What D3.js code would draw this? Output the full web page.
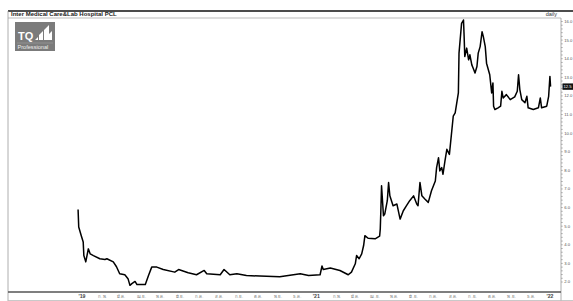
<!DOCTYPE html>
<html>
<head>
<meta charset="utf-8">
<script src="https://cdn.jsdelivr.net/npm/d3@7"></script>
<style>
    body { margin: 0; background: #fff; }
    svg { display: block; font-family: "Liberation Sans", Arial, sans-serif; }
</style>
</head>
<body>
<svg></svg>
<script>
// price data (close-ish values)
const dates = [
    '2019-12-29', '2019-12-30', '2020-01-03', '2020-01-06', '2020-01-07', '2020-01-10', '2020-01-14', '2020-01-17',
    '2020-01-22', '2020-02-01', '2020-02-09', '2020-02-12', '2020-02-22', '2020-02-27', '2020-03-03', '2020-03-11',
    '2020-03-16', '2020-03-19', '2020-03-22', '2020-03-27', '2020-03-30', '2020-04-12', '2020-04-17', '2020-04-22',
    '2020-04-30', '2020-05-10', '2020-05-28', '2020-06-03', '2020-06-18', '2020-07-01', '2020-07-13', '2020-07-17',
    '2020-08-07', '2020-08-13', '2020-08-22', '2020-09-02', '2020-09-17', '2020-10-08', '2020-11-08', '2020-12-10',
    '2020-12-23', '2021-01-10', '2021-01-13', '2021-01-15', '2021-01-26', '2021-02-10', '2021-02-23', '2021-02-28',
    '2021-03-06', '2021-03-08', '2021-03-12', '2021-03-16', '2021-03-19', '2021-03-21', '2021-03-26', '2021-04-06',
    '2021-04-13', '2021-04-14', '2021-04-15', '2021-04-16', '2021-04-19', '2021-04-21', '2021-04-25', '2021-04-27',
    '2021-04-29', '2021-05-04', '2021-05-10', '2021-05-15', '2021-05-20', '2021-05-25', '2021-05-30', '2021-06-05',
    '2021-06-10', '2021-06-12', '2021-06-15', '2021-06-18', '2021-06-23', '2021-06-28', '2021-07-03', '2021-07-09',
    '2021-07-11', '2021-07-14', '2021-07-16', '2021-07-19', '2021-07-21', '2021-07-24', '2021-07-27', '2021-07-31',
    '2021-08-06', '2021-08-09', '2021-08-14', '2021-08-15', '2021-08-19', '2021-08-22', '2021-08-23', '2021-08-24',
    '2021-08-27', '2021-08-30', '2021-09-01', '2021-09-04', '2021-09-06', '2021-09-09', '2021-09-12', '2021-09-14',
    '2021-09-17', '2021-09-20', '2021-09-22', '2021-09-25', '2021-09-27', '2021-10-02', '2021-10-05', '2021-10-07',
    '2021-10-08', '2021-10-10', '2021-10-15', '2021-10-19', '2021-10-21', '2021-10-23', '2021-10-28', '2021-11-03',
    '2021-11-10', '2021-11-14', '2021-11-16', '2021-11-18', '2021-11-21', '2021-11-26', '2021-11-29', '2021-12-01',
    '2021-12-09', '2021-12-17', '2021-12-20', '2021-12-22', '2021-12-30', '2022-01-02', '2022-01-04', '2022-01-05'
];
const prices = [
    5.90, 4.96, 4.49, 4.15, 3.42, 3.08, 3.78, 3.51,
    3.42, 3.25, 3.21, 3.25, 3.08, 2.82, 2.44, 2.39,
    2.18, 1.82, 1.91, 2.03, 1.86, 1.86, 2.35, 2.80,
    2.80, 2.67, 2.53, 2.67, 2.50, 2.39, 2.62, 2.44,
    2.39, 2.67, 2.39, 2.44, 2.35, 2.32, 2.28, 2.44,
    2.35, 2.39, 2.86, 2.67, 2.75, 2.62, 2.39, 2.53,
    2.98, 3.42, 3.25, 3.51, 3.96, 4.49, 4.35, 4.32,
    4.46, 4.85, 5.92, 7.17, 5.56, 5.65, 6.37, 7.35,
    6.63, 6.10, 6.19, 5.38, 5.83, 6.10, 6.37, 6.63,
    6.19, 6.10, 7.35, 6.63, 6.45, 6.28, 6.90, 7.43,
    8.15, 8.68, 7.97, 8.15, 7.79, 8.50, 9.13, 8.86,
    10.91, 11.09, 12.16, 14.30, 15.90, 16.08, 15.19, 14.12,
    14.57, 13.94, 14.21, 13.67, 13.50, 13.23, 13.58, 14.30,
    14.65, 15.45, 15.19, 14.65, 13.76, 13.14, 12.16, 12.70,
    11.45, 11.27, 11.36, 11.45, 12.25, 11.89, 12.07, 11.80,
    11.95, 12.25, 13.14, 12.34, 11.80, 11.63, 11.98, 11.36,
    11.27, 11.36, 11.89, 11.36, 11.45, 11.98, 13.05, 12.50
];

const yTicks = [2, 3, 4, 5, 6, 7, 8, 9, 10, 11, 12, 13, 14, 15, 16];
const tickDates = [
    '2020-01-01', '2020-02-01', '2020-03-01', '2020-04-01', '2020-05-01', '2020-06-01', '2020-07-01',
    '2020-08-01', '2020-09-01', '2020-10-01', '2020-11-01', '2020-12-01', '2021-01-01', '2021-02-01',
    '2021-03-01', '2021-04-01', '2021-05-01', '2021-06-01', '2021-07-01', '2021-08-01', '2021-09-01',
    '2021-10-01', '2021-11-01', '2021-12-01', '2022-01-01'
];
const tickLabels = [
    "'19", 'ก.พ.', 'มี.ค.', 'เม.ย.', 'พ.ค.', 'มิ.ย.', 'ก.ค.', 'ส.ค.', 'ก.ย.', 'ต.ค.', 'พ.ย.', 'ธ.ค.',
    "'21", 'ก.พ.', 'มี.ค.', 'เม.ย.', 'พ.ค.', 'มิ.ย.', 'ก.ค.', 'ส.ค.', 'ก.ย.', 'ต.ค.', 'พ.ย.', 'ธ.ค.', "'22"
];

const title = 'Inter Medical Care&Lab Hospital PCL';

(() => {
    const W = 573, H = 301;
    const left = 8, right = 561, top = 11, bar = 18, bottom = 292;

    const svg = d3.select('svg').attr('width', W).attr('height', H);
    const parse = d3.utcParse('%Y-%m-%d');
    const data = dates.map((d, i) => ({ date: parse(d), v: prices[i] }));

    const x = d3.scaleUtc()
        .domain([parse(tickDates[0]), parse(tickDates[tickDates.length - 1])])
        .range([80, 548]);
    const y = d3.scaleLinear().domain([2, 16]).range([282, 21.5]);

    // frame
    svg.append('line').attr('x1', left).attr('x2', W).attr('y1', top).attr('y2', top)
        .attr('stroke', '#111').attr('stroke-width', 1.5);
    svg.append('line').attr('x1', left).attr('x2', right).attr('y1', bar).attr('y2', bar)
        .attr('stroke', '#aaa').attr('stroke-width', 0.8);
    svg.append('line').attr('x1', left).attr('x2', left).attr('y1', top).attr('y2', H)
        .attr('stroke', '#999').attr('stroke-width', 0.8);
    svg.append('line').attr('x1', right).attr('x2', right).attr('y1', bar).attr('y2', H)
        .attr('stroke', '#999').attr('stroke-width', 0.8);
    svg.append('line').attr('x1', left).attr('x2', right).attr('y1', bottom).attr('y2', bottom)
        .attr('stroke', '#555').attr('stroke-width', 1.6);
    svg.append('line').attr('x1', left).attr('x2', W).attr('y1', 300.5).attr('y2', 300.5)
        .attr('stroke', '#bbb').attr('stroke-width', 0.8);

    svg.append('text').attr('x', 11).attr('y', 16.3)
        .attr('font-size', 6).attr('font-weight', 'bold').attr('fill', '#222')
        .text(title);
    svg.append('text').attr('x', 557).attr('y', 16.3).attr('text-anchor', 'end')
        .attr('font-size', 5.5).attr('fill', '#333').text('daily');

    // logo
    const logo = svg.append('g').attr('transform', 'translate(15, 22)');
    logo.append('rect').attr('width', 40).attr('height', 29).attr('fill', '#7b7b7b');
    logo.append('text').attr('x', 3).attr('y', 18).attr('font-size', 11).attr('font-weight', 'bold')
        .attr('fill', '#fff').text('TQ');
    logo.append('path').attr('fill', '#fff')
        .attr('d', 'M20,18 l3,-3 l0,3 z M24,18 l0,-5 l4,-4 l0,9 z M29,18 l0,-10 l5,-5 l0,15 z M32,14 l5,-5 l0,9 l-5,0 z');
    logo.append('line').attr('x1', 2).attr('x2', 38).attr('y1', 21).attr('y2', 21)
        .attr('stroke', '#aaa').attr('stroke-width', 0.5);
    logo.append('text').attr('x', 2.5).attr('y', 27).attr('font-size', 5.6)
        .attr('fill', '#eee').text('Professional');

    // right axis
    const yAxis = svg.append('g').attr('transform', `translate(${right}, 0)`);
    yAxis.selectAll('.minor').data(d3.range(20, 161, 2).map(d => d / 10))
        .enter().append('line')
        .attr('x1', 0).attr('x2', 1.8)
        .attr('y1', d => y(d)).attr('y2', d => y(d))
        .attr('stroke', '#777').attr('stroke-width', 0.5);
    yAxis.selectAll('.tick').data(yTicks).enter().append('text')
        .attr('x', 3.2).attr('y', d => y(d)).attr('dy', '0.35em')
        .attr('font-size', 4.2).attr('fill', '#555')
        .text(d => d3.format('.1f')(d));

    // last price marker
    const last = prices[prices.length - 1];
    yAxis.append('rect').attr('x', 1.5).attr('y', y(last) - 3.2).attr('width', 10.5).attr('height', 6.4)
        .attr('fill', '#111');
    yAxis.append('text').attr('x', 2.4).attr('y', y(last)).attr('dy', '0.35em')
        .attr('font-size', 4.2).attr('fill', '#fff').text(d3.format('.1f')(last));

    // bottom axis labels
    svg.append('g').selectAll('text').data(tickDates).enter().append('text')
        .attr('x', d => x(parse(d)) - 1.5).attr('y', 298)
        .attr('font-size', (d, i) => tickLabels[i].startsWith("'") ? 5.2 : 4.3)
        .attr('font-weight', (d, i) => tickLabels[i].startsWith("'") ? 'bold' : 'normal')
        .attr('fill', (d, i) => tickLabels[i].startsWith("'") ? '#444' : '#777')
        .text((d, i) => tickLabels[i]);

    // price line
    const line = d3.line().x(d => x(d.date)).y(d => y(d.v));
    svg.append('path').datum(data)
        .attr('d', line)
        .attr('fill', 'none')
        .attr('stroke', '#000')
        .attr('stroke-width', 1.5)
        .attr('stroke-linejoin', 'round');
})()
</script>
</body>
</html>
